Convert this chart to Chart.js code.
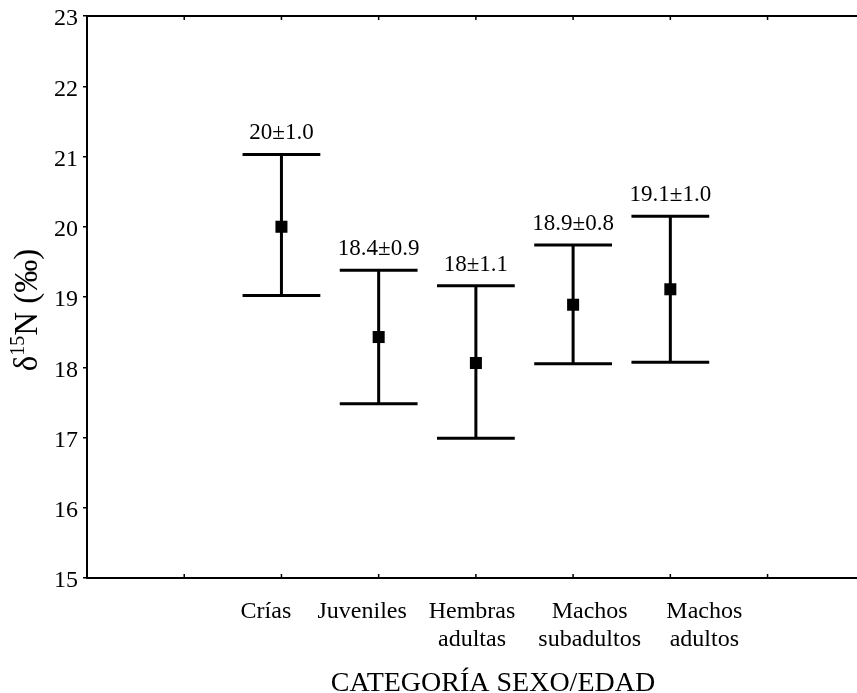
<!DOCTYPE html>
<html>
<head>
<meta charset="utf-8">
<script src="https://cdn.jsdelivr.net/npm/chart.js@4.4.0/dist/chart.umd.min.js"></script>
<style>
  html, body { margin: 0; padding: 0; background: #fff; overflow: hidden; }
  #wrap { width: 857px; height: 693px; }
</style>
</head>
<body>
<div id="wrap"><canvas id="grafico"></canvas></div>
<script>
// datos
var categorias = ['Crías', 'Juveniles', ['Hembras', 'adultas'], ['Machos', 'subadultos'], ['Machos', 'adultos']];
var posX = [2, 3, 4, 5, 6];
var medias = [20.0, 18.43, 18.06, 18.89, 19.11];
var inferior = [19.02, 17.48, 16.99, 18.05, 18.07];
var superior = [21.03, 19.38, 19.16, 19.74, 20.15];
var etiquetas = ['20±1.0', '18.4±0.9', '18±1.1', '18.9±0.8', '19.1±1.0'];
var ticksY = [15, 16, 17, 18, 19, 20, 21, 22, 23];
var ticksX = [1, 2, 3, 4, 5, 6, 7];

// desplazamiento de las etiquetas de categoria (unidades del eje x)
var despEtiq = [-0.16, -0.17, -0.04, 0.17, 0.35];
var fuente = "'Liberation Serif', 'Times New Roman', serif";

var puntos = [];
for (var i in medias) {
  puntos.push({ x: posX[i], y: medias[i] });
}

var barrasError = {
  id: 'barrasError',
  beforeDatasetsDraw: function(chart) {
    var ctx = chart.ctx;
    var sx = chart.scales.x, sy = chart.scales.y;
    var media = sx.getPixelForValue(0.4) - sx.getPixelForValue(0);
    ctx.save();
    ctx.strokeStyle = '#000';
    ctx.lineWidth = 3;
    for (var i = 0; i < medias.length; i++) {
      var px = sx.getPixelForValue(posX[i]);
      var y1 = sy.getPixelForValue(inferior[i]);
      var y2 = sy.getPixelForValue(superior[i]);
      ctx.beginPath();
      ctx.moveTo(px, y1); ctx.lineTo(px, y2);
      ctx.moveTo(px - media, y1); ctx.lineTo(px + media, y1);
      ctx.moveTo(px - media, y2); ctx.lineTo(px + media, y2);
      ctx.stroke();
      ctx.fillStyle = '#000';
      ctx.font = '23px ' + fuente;
      ctx.textAlign = 'center';
      ctx.textBaseline = 'alphabetic';
      ctx.fillText(etiquetas[i], px, y2 - 15);
    }
    ctx.restore();
  },
  afterDraw: function(chart) {
    var ctx = chart.ctx;
    var sx = chart.scales.x, sy = chart.scales.y;
    var area = chart.chartArea;
    ctx.save();
    ctx.strokeStyle = '#000';
    // borde superior
    ctx.lineWidth = 2;
    ctx.beginPath();
    ctx.moveTo(area.left, area.top);
    ctx.lineTo(area.right, area.top);
    ctx.stroke();
    // marcas del eje x hacia dentro
    ctx.lineWidth = 1.5;
    ctx.beginPath();
    ticksX.forEach(function(t) {
      var px = sx.getPixelForValue(t);
      ctx.moveTo(px, area.bottom); ctx.lineTo(px, area.bottom - 4);
      ctx.moveTo(px, area.top); ctx.lineTo(px, area.top + 4);
    });
    ctx.stroke();
    // etiquetas de categoria
    ctx.fillStyle = '#000';
    ctx.font = '24px ' + fuente;
    ctx.textAlign = 'center';
    ctx.textBaseline = 'alphabetic';
    for (var i = 0; i < categorias.length; i++) {
      var px = sx.getPixelForValue(posX[i] + despEtiq[i]);
      var lineas = [].concat(categorias[i]);
      for (var k = 0; k < lineas.length; k++) {
        ctx.fillText(lineas[k], px, area.bottom + 40 + k * 28);
      }
    }
    // titulo eje x
    ctx.font = '28px ' + fuente;
    ctx.fillText('CATEGORÍA SEXO/EDAD', 493, 691);
    // titulo eje y con superindice
    ctx.translate(28, 310);
    ctx.rotate(-Math.PI / 2);
    ctx.textBaseline = 'middle';
    ctx.textAlign = 'left';
    var fG = '33px ' + fuente, fS = '20px ' + fuente;
    ctx.font = fG; var w1 = ctx.measureText('δ').width;
    ctx.font = fS; var w2 = ctx.measureText('15').width;
    ctx.font = fG; var w3 = ctx.measureText('N (‰)').width;
    var x0 = -(w1 + w2 + w3) / 2;
    ctx.font = fG; ctx.fillText('δ', x0, 0);
    ctx.font = fS; ctx.fillText('15', x0 + w1, -9);
    ctx.font = fG; ctx.fillText('N (‰)', x0 + w1 + w2, 0);
    ctx.restore();
  }
};

var ctx = document.getElementById('grafico');

var grafico = new Chart(ctx, {
  type: 'scatter',
  data: {
    datasets: [{
      data: puntos,
      pointStyle: 'rect',
      pointRadius: 8.5,
      pointHoverRadius: 8.5,
      backgroundColor: '#000',
      borderColor: '#000',
      borderWidth: 0
    }]
  },
  options: {
    responsive: true,
    maintainAspectRatio: false,
    animation: false,
    layout: { autoPadding: false, padding: { left: 0, top: 16, right: 0, bottom: 0 } },
    plugins: { legend: { display: false }, tooltip: { enabled: false } },
    scales: {
      x: {
        type: 'linear',
        min: 0,
        max: 7.92,
        afterFit: function(s) { s.height = 115; s.paddingLeft = 0; s.paddingRight = 0; },
        ticks: { display: false },
        grid: { drawOnChartArea: false, drawTicks: false },
        border: { display: true, color: '#000', width: 2 }
      },
      y: {
        min: 15,
        max: 23,
        afterFit: function(s) { s.width = 87; s.paddingTop = 0; s.paddingBottom = 0; },
        afterBuildTicks: function(s) { s.ticks = ticksY.map(function(v) { return { value: v }; }); },
        ticks: { color: '#000', padding: 5, labelOffset: 3, font: { family: fuente, size: 24 } },
        grid: { drawOnChartArea: false, drawTicks: true, tickLength: 4, color: '#000', lineWidth: 1.5 },
        border: { display: true, color: '#000', width: 2 }
      }
    }
  },
  plugins: [barrasError]
});
</script>
</body>
</html>
